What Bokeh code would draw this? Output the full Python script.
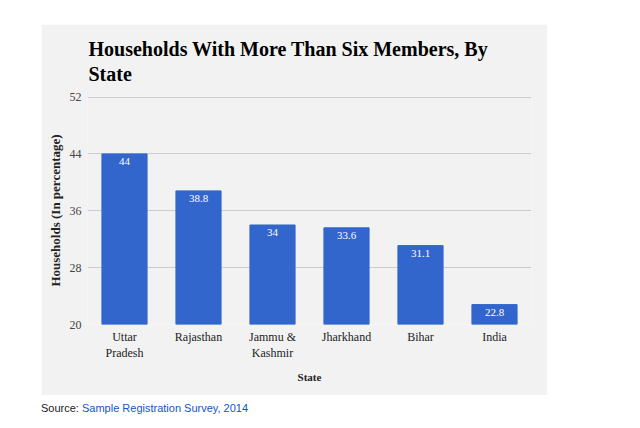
from bokeh.plotting import figure
from bokeh.models import ColumnDataSource, FixedTicker, Range1d, LabelSet, Title, Div
from bokeh.layouts import column
from bokeh.embed import file_html
from bokeh.resources import INLINE

states = ["Uttar\nPradesh", "Rajasthan", "Jammu &\nKashmir", "Jharkhand", "Bihar", "India"]
values = [44, 38.8, 34, 33.6, 31.1, 22.8]
value_labels = ["44", "38.8", "34", "33.6", "31.1", "22.8"]
y_ticks = [20, 28, 36, 44, 52]
title_text = "Households With More Than Six Members, By\nState"

SERIF = "Liberation Serif"
BG = "#f2f2f2"

src = ColumnDataSource(dict(state=states, value=values, label=value_labels))

p = figure(x_range=states, y_range=Range1d(20, 52.08), width=506, height=371,
           output_backend="svg", toolbar_location=None,
           min_border_left=46, min_border_right=16, min_border_top=72, min_border_bottom=71,
           background_fill_color=BG, border_fill_color=BG, outline_line_color=None,
           margin=(24, 0, 0, 41))
p.title = Title(text=title_text, text_font=SERIF, text_font_size="20px",
                text_font_style="bold", text_color="#000000", text_line_height=1.15,
                align="left", standoff=23, offset=1)

p.vbar(x="state", top="value", bottom=20, width=0.61, source=src, color="#3366cc")

labels = LabelSet(x="state", y="value", text="label", source=src, y_offset=-4,
                  text_align="center", text_baseline="top", text_color="white",
                  text_font="Liberation Sans", text_font_size="11px")
p.add_layout(labels)

p.xgrid.grid_line_color = None
p.ygrid.grid_line_color = "#cccccc"
p.yaxis.ticker = FixedTicker(ticks=y_ticks)

for ax in (p.xaxis[0], p.yaxis[0]):
    ax.axis_line_color = None
    ax.major_tick_line_color = None
    ax.minor_tick_line_color = None
    ax.major_tick_out = 0
    ax.major_tick_in = 0
    ax.minor_tick_out = 0
    ax.minor_tick_in = 0
    ax.major_label_text_font = SERIF
    ax.major_label_text_font_size = "12px"
    ax.major_label_text_color = "#222222"
    ax.axis_label_text_font = SERIF
    ax.axis_label_text_font_size = "11px"
    ax.axis_label_text_font_style = "bold"
    ax.axis_label_text_color = "#222222"

p.yaxis.axis_label = "Households (In percentage)"
p.yaxis.axis_label_text_font_size = "13px"
p.yaxis.major_label_standoff = 6
p.yaxis.axis_label_standoff = 4
p.yaxis.major_label_text_color = "#444444"
p.xaxis.axis_label = "State"
p.xaxis.major_label_standoff = 5
p.xaxis.axis_label_standoff = 8

div = Div(text='<span style="color:#222">Source: </span>'
               '<span style="color:#1155cc">Sample Registration Survey, 2014</span>',
          styles={"font-family": "Liberation Sans, Arial", "font-size": "11px"},
          margin=(6, 0, 0, 41), width=400)

layout = column(p, div)
open("out.html", "w").write(file_html(layout, INLINE))
